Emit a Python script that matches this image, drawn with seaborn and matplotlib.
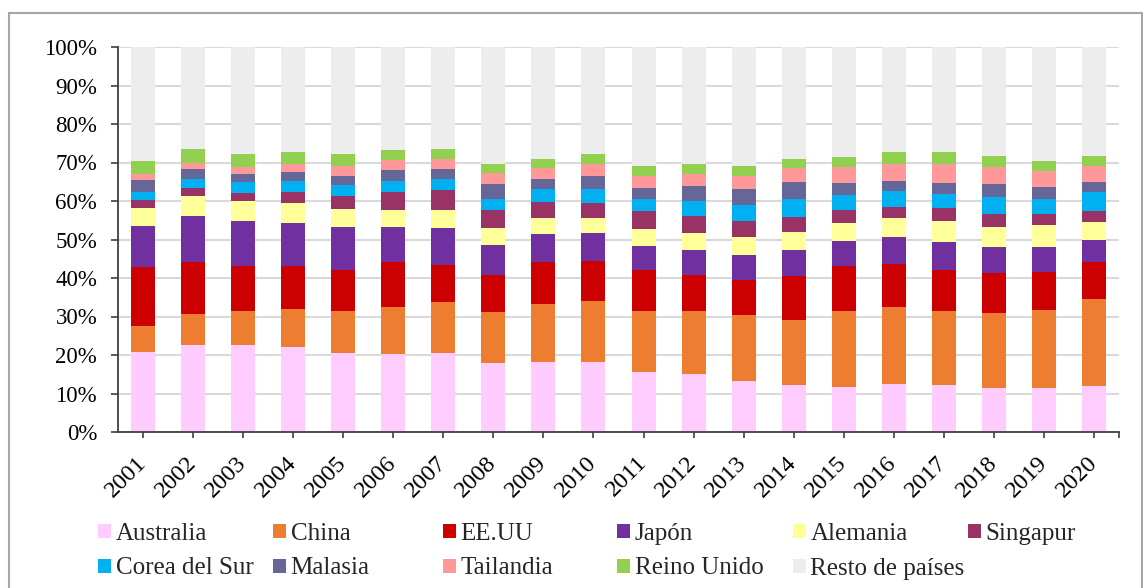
import matplotlib
matplotlib.use("Agg")
import matplotlib.pyplot as plt
from matplotlib.patches import Patch, Rectangle
import numpy as np
import pandas as pd
import seaborn as sns

years = [str(y) for y in range(2001, 2021)]

countries = ["Australia", "China", "EE.UU", "Japón", "Alemania", "Singapur",
             "Corea del Sur", "Malasia", "Tailandia", "Reino Unido", "Resto de países"]

australia = [20.8, 22.6, 22.5, 22.2, 20.5, 20.3, 20.5, 18.0, 18.3, 18.1, 15.6, 15.1, 13.2, 12.1, 11.7, 12.5, 12.1, 11.4, 11.4, 12.0]
china     = [6.8, 8.1, 9.0, 9.7, 10.8, 12.1, 13.3, 13.2, 15.0, 15.9, 15.9, 16.4, 17.1, 16.9, 19.6, 19.9, 19.3, 19.6, 20.3, 22.5]
eeuu      = [15.2, 13.5, 11.6, 11.2, 10.9, 11.7, 9.7, 9.5, 10.8, 10.3, 10.7, 9.2, 9.3, 11.4, 11.7, 11.3, 10.6, 10.2, 9.9, 9.6]
japon     = [10.6, 12.0, 11.8, 11.1, 11.0, 9.1, 9.4, 8.0, 7.4, 7.3, 6.2, 6.6, 6.5, 6.9, 6.6, 7.0, 7.4, 6.9, 6.5, 5.8]
alemania  = [4.9, 5.0, 5.2, 5.3, 4.8, 4.4, 4.8, 4.4, 4.2, 4.1, 4.2, 4.3, 4.5, 4.7, 4.6, 5.0, 5.4, 5.1, 5.6, 4.7]
singapur  = [1.9, 2.1, 2.0, 2.8, 3.4, 4.7, 5.1, 4.6, 4.1, 3.9, 4.7, 4.5, 4.1, 3.9, 3.5, 2.7, 3.3, 3.3, 2.8, 2.7]
corea     = [2.2, 2.4, 2.8, 2.9, 2.8, 2.9, 2.8, 2.8, 3.3, 3.4, 3.1, 3.9, 4.2, 4.6, 3.9, 4.3, 3.7, 4.6, 4.0, 5.0]
malasia   = [3.0, 2.5, 2.2, 2.3, 2.4, 2.8, 2.6, 4.0, 2.7, 3.5, 3.1, 3.8, 4.1, 4.5, 3.2, 2.6, 3.0, 3.3, 3.1, 2.7]
tailandia = [1.5, 1.8, 1.8, 2.0, 2.6, 2.7, 2.8, 2.8, 2.7, 3.2, 3.0, 3.2, 3.5, 3.5, 4.1, 4.4, 4.8, 4.4, 4.2, 4.1]
reino     = [3.5, 3.6, 3.3, 3.3, 3.1, 2.5, 2.6, 2.2, 2.3, 2.4, 2.5, 2.6, 2.5, 2.5, 2.5, 2.9, 3.0, 2.8, 2.7, 2.5]
resto     = [29.6, 26.4, 27.8, 27.2, 27.7, 26.8, 26.4, 30.5, 29.2, 27.9, 31.0, 30.4, 31.0, 29.0, 28.6, 27.4, 27.4, 28.4, 29.5, 28.4]

series = [australia, china, eeuu, japon, alemania, singapur, corea, malasia, tailandia, reino, resto]

colors = ["#FFCCFF", "#ED7D31", "#CC0000", "#7030A0", "#FFFF99", "#993366",
          "#00B0F0", "#666699", "#FF9999", "#92D050", "#EDEDED"]

vals = np.array(series, dtype=float)
share = vals / vals.sum(axis=0) * 100.0  # 100% stacked
cum = np.cumsum(share, axis=0)

sns.set_theme(style="white")
plt.rcParams["font.family"] = ["Liberation Serif", "DejaVu Serif"]

fig = plt.figure(figsize=(11.43, 5.88), dpi=100)
ax = fig.add_axes([118 / 1143, 1 - 432 / 588, (1119 - 118) / 1143, (432 - 47) / 588])

for i in range(len(countries) - 1, -1, -1):
    df = pd.DataFrame({"year": years, "val": cum[i]})
    sns.barplot(data=df, x="year", y="val", order=years, color=colors[i],
                saturation=1, width=0.48, linewidth=0, errorbar=None, ax=ax)

ax.set_xlim(-0.5, len(years) - 0.5)
ax.set_ylim(0, 100)
ax.set_xlabel("")
ax.set_ylabel("")

yt = np.arange(0, 101, 10)
ax.set_yticks(yt)
ax.set_yticklabels([f"{v}%" for v in yt], fontsize=16.5)
ax.yaxis.grid(True, color="#D9D9D9", linewidth=1.5)
ax.set_axisbelow(True)

ax.set_xticks(range(len(years)))
ax.set_xticklabels(years, fontsize=17.5, rotation=45, ha="right", va="center",
                   rotation_mode="anchor")
ax.set_xticks([len(years) - 0.5], minor=True)

for s in ["top", "right"]:
    ax.spines[s].set_visible(False)
for s in ["left", "bottom"]:
    ax.spines[s].set_color("#404040")
    ax.spines[s].set_linewidth(1.3)

ax.tick_params(axis="y", which="major", direction="out", length=5, width=1.2,
               color="#404040", pad=10, left=True, labelcolor="black")
ax.tick_params(axis="x", which="both", direction="out", length=4, width=1.2,
               color="#404040", pad=16, bottom=True, labelcolor="black")

# legend: one column per legend, evenly spaced like the reference
handles = [Patch(facecolor=c, edgecolor="none") for c in colors]
col_x = [98, 273, 443, 617, 793, 968]
for c, x in enumerate(col_x):
    idx = [c, c + 6] if c + 6 < len(countries) else [c]
    fig.legend([handles[k] for k in idx], [countries[k] for k in idx],
               loc="upper left", bbox_to_anchor=(x / 1143, 1 - 523 / 588),
               frameon=False, fontsize=18, handlelength=0.5, handleheight=0.5,
               handletextpad=0.2, labelspacing=0.5, borderpad=0, borderaxespad=0)

# outer chart border
fig.patches.append(Rectangle((9 / 1143, -0.01), (1141.5 - 9) / 1143, 1 - 13 / 588 + 0.01,
                             transform=fig.transFigure, fill=False,
                             edgecolor="#A6A6A6", linewidth=1.5))

fig.savefig("out.png", dpi=100)
